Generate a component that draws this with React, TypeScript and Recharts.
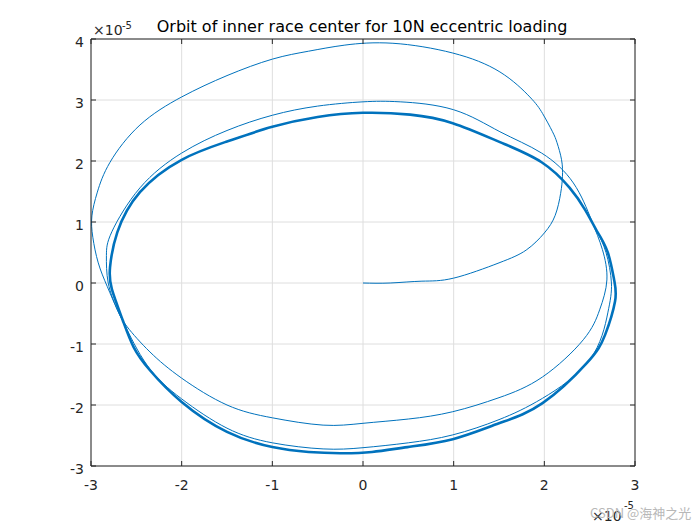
import { LineChart, Line, XAxis, YAxis, CartesianGrid } from 'recharts'

// orbit values in units of 1e-5
const transientX = [
  0, 0.3, 0.65, 1.0, 1.5, 1.8, 2.0, 2.12, 2.18, 2.2, 2.19, 2.14, 2.09, 1.98, 1.84, 1.51, 0.99, 0.33,
  -0.2, -0.6, -1.0, -1.5, -2.0, -2.46, -2.79, -2.93, -2.99, -2.98, -2.92, -2.82, -2.71, -2.6, -2.35,
  -2.0, -1.5, -1.0, -0.44, 0.0, 0.5, 0.99, 1.5, 1.98, 2.43, 2.61, 2.69, 2.64, 2.52, 2.32, 1.97, 1.51,
  1.0, 0.41, 0.0, -0.5, -1.0, -1.5, -2.0, -2.46, -2.77, -2.83, -2.81, -2.72, -2.63, -2.38, -2.0, -1.5,
  -1.0, -0.44, 0.0, 0.5, 0.99, 1.5, 1.98, 2.5, 2.7, 2.74, 2.68, 2.58,
]
const transientY = [
  0, 0.0, 0.03, 0.08, 0.33, 0.54, 0.82, 1.11, 1.47, 1.75, 2.02, 2.3, 2.48, 2.78, 3.05, 3.46, 3.77, 3.93,
  3.9, 3.8, 3.67, 3.4, 3.05, 2.59, 1.98, 1.49, 1.1, 0.75, 0.33, -0.06, -0.44, -0.72, -1.13,
  -1.56, -2.0, -2.21, -2.33, -2.3, -2.23, -2.11, -1.88, -1.54, -0.93, -0.44, 0.05, 0.55, 1.03, 1.64, 2.13, 2.48,
  2.84, 2.97, 2.97, 2.9, 2.75, 2.5, 2.13, 1.56, 0.84, 0.45, 0.0, -0.4, -0.68, -1.35, -1.9, -2.38,
  -2.62, -2.72, -2.7, -2.62, -2.49, -2.24, -1.89, -1.26, -0.49, 0.0, 0.5, 0.85,
]

const steadyX = [
  2.58, 2.45, 2.28, 1.97, 1.51, 0.99, 0.52, 0.0, -0.5, -1.0, -1.5, -2.0, -2.46, -2.71, -2.79, -2.77,
  -2.65, -2.53, -2.35, -2.0, -1.5, -1.0, -0.6, -0.25, 0.1, 0.49, 0.99, 1.5, 1.98, 2.47, 2.67, 2.78, 2.77, 2.7, 2.58,
]
const steadyY = [
  0.85, 1.2, 1.56, 1.98, 2.31, 2.62, 2.76, 2.79, 2.72, 2.56, 2.32, 2.02, 1.49, 0.83, 0.26, -0.1,
  -0.61, -1.05, -1.43, -1.95, -2.44, -2.69, -2.77, -2.79, -2.77, -2.69, -2.56, -2.3, -1.97, -1.31, -0.85, -0.3, 0.05, 0.5, 0.85,
]

const xTicks = [-3, -2, -1, 0, 1, 2, 3]
const yTicks = [-3, -2, -1, 0, 1, 2, 3, 4]

const transient = transientX.map((x, i) => ({ x, y: transientY[i] }))
const steady = steadyX.map((x, i) => ({ x, y: steadyY[i] }))

const axisColor = '#262626'
const font = '"DejaVu Sans", sans-serif'

const BottomTick = ({ x, y, payload }: any) => (
  <g>
    <line x1={x} y1={y} x2={x} y2={y - 5} stroke={axisColor} />
    <text x={x} y={y + 24} textAnchor="middle" fontSize={14} fill={axisColor} fontFamily={font}>{payload.value}</text>
  </g>
)
const LeftTick = ({ x, y, payload }: any) => (
  <g>
    <line x1={x} y1={y} x2={x + 5} y2={y} stroke={axisColor} />
    <text x={x - 7} y={y + 8} textAnchor="end" fontSize={14} fill={axisColor} fontFamily={font}>{payload.value}</text>
  </g>
)
const TopTick = ({ x, y }: any) => <line x1={x} y1={y} x2={x} y2={y + 5} stroke={axisColor} />
const RightTick = ({ x, y }: any) => <line x1={x} y1={y} x2={x - 5} y2={y} stroke={axisColor} />

export default function App() {
  return (
    <div style={{ position: 'absolute', left: 0, top: 0, width: 700, height: 525, background: '#fff' }}>
      <LineChart width={700} height={525} margin={{ top: 9, right: 35, bottom: 29, left: 51 }}>
        <CartesianGrid stroke="#dedede" />
        <XAxis type="number" dataKey="x" domain={[-3, 3]} ticks={xTicks} allowDataOverflow height={30}
          tickSize={0} tickMargin={0} tick={<BottomTick />} axisLine={{ stroke: axisColor }} tickLine={false} />
        <XAxis xAxisId="top" orientation="top" type="number" dataKey="x" domain={[-3, 3]} ticks={xTicks} allowDataOverflow height={30}
          tickSize={0} tickMargin={0} tick={<TopTick />} axisLine={{ stroke: axisColor }} tickLine={false} />
        <YAxis type="number" dataKey="y" domain={[-3, 4]} ticks={yTicks} allowDataOverflow width={40}
          tickSize={0} tickMargin={0} tick={<LeftTick />} axisLine={{ stroke: axisColor }} tickLine={false} />
        <YAxis yAxisId="right" orientation="right" type="number" dataKey="y" domain={[-3, 4]} ticks={yTicks} allowDataOverflow width={30}
          tickSize={0} tickMargin={0} tick={<RightTick />} axisLine={{ stroke: axisColor }} tickLine={false} />
        <Line data={transient} dataKey="y" type="natural" stroke="#0072BD" strokeWidth={1} dot={false} isAnimationActive={false} />
        <Line data={steady} dataKey="y" type="natural" stroke="#0072BD" strokeWidth={2.6} dot={false} isAnimationActive={false} />
        <text x={362} y={32} textAnchor="middle" fontSize={16} fill="#000" fontFamily={font}>
          Orbit of inner race center for 10N eccentric loading
        </text>
        <text x={93} y={35} fontSize={14} fill={axisColor} fontFamily={font}>×10</text>
        <text x={122} y={29} fontSize={10} fill={axisColor} fontFamily={font}>-5</text>
        <text x={592} y={521} fontSize={14} fill={axisColor} fontFamily={font}>×10</text>
        <text x={624} y={509} fontSize={10} fill={axisColor} fontFamily={font}>-5</text>
        <text x={590} y={518} fontSize={13} fill="#b8b8b8" fontFamily={'"Noto Sans CJK SC", "DejaVu Sans", sans-serif'}>CSDN @海神之光</text>
      </LineChart>
    </div>
  )
}
